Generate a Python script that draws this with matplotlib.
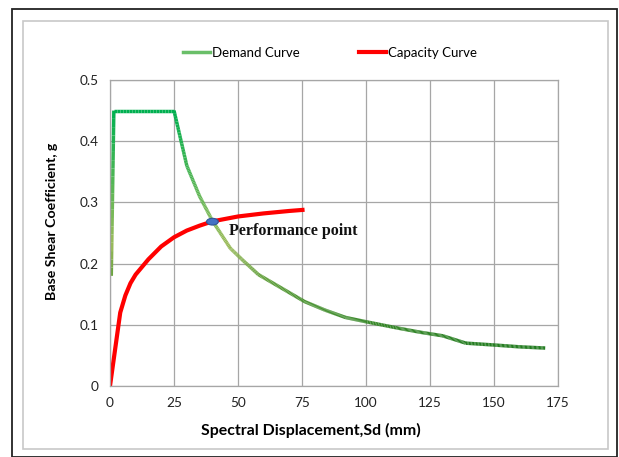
import matplotlib
matplotlib.use("Agg")
import matplotlib.pyplot as plt
import numpy as np
from matplotlib.collections import LineCollection
from matplotlib.colors import LinearSegmentedColormap
from matplotlib.lines import Line2D
from matplotlib.patches import Ellipse, Rectangle

# demand curve (spectral displacement mm, base shear coeff g)
demand_sd = [0.5, 1.5, 25, 30, 35, 40, 47, 52, 58, 67, 76, 84, 92, 100, 112, 121, 130, 139, 150, 160, 170]
demand_sa = [0.18, 0.45, 0.45, 0.36, 0.31, 0.27, 0.225, 0.205, 0.182, 0.160, 0.138, 0.124, 0.112, 0.105, 0.095, 0.088, 0.082, 0.070, 0.067, 0.064, 0.062]

# capacity curve
capacity_sd = [0, 2, 4, 6, 8, 10, 15, 20, 25, 30, 35, 40, 45, 50, 60, 70, 76]
capacity_sa = [0, 0.06, 0.12, 0.148, 0.168, 0.182, 0.207, 0.228, 0.243, 0.254, 0.262, 0.269, 0.273, 0.277, 0.282, 0.286, 0.288]

perf_sd, perf_sa = 40, 0.2685

x_ticks = [0, 25, 50, 75, 100, 125, 150, 175]
y_ticks = [0, 0.1, 0.2, 0.3, 0.4, 0.5]
y_labels = ["0", "0.1", "0.2", "0.3", "0.4", "0.5"]

lab_font = "Lato"

fig = plt.figure(figsize=(6.19, 4.57), dpi=100)
# outer frames
fig.patches.append(Rectangle((12/619, 0), 605/619, 1 - 9/457, transform=fig.transFigure,
                             fill=False, edgecolor="#222222", linewidth=1.3))
fig.patches.append(Rectangle((23/619, 1 - 449/457), 585/619, (449 - 21)/457, transform=fig.transFigure,
                             fill=False, edgecolor="#c8c8c8", linewidth=1.2))

ax = fig.add_axes([110/619, 1 - 386/457, 448/619, 306/457])
ax.set_xlim(0, 175)
ax.set_ylim(0, 0.5)
ax.set_xticks(x_ticks)
ax.set_yticks(y_ticks)
ax.set_yticklabels(y_labels)
ax.tick_params(length=0, labelsize=9.8, colors="#222222", pad=8)
for lbl in ax.get_xticklabels() + ax.get_yticklabels():
    lbl.set_family(lab_font)
ax.grid(True, color="#a6a6a6", linewidth=0.9)
ax.set_axisbelow(True)
for s in ax.spines.values():
    s.set_color("#a6a6a6")
    s.set_linewidth(0.9)

# demand curve coloured by level (green top, pale middle, dark bottom)
cmap = LinearSegmentedColormap.from_list("dem", [(0, "#1f7a1f"), (0.3, "#5e9e3a"), (0.45, "#9bbb59"), (1, "#00b050")])
pts = np.array([demand_sd, demand_sa]).T
fine = []
for i in range(len(pts) - 1):
    for t in np.linspace(0, 1, 20, endpoint=False):
        fine.append(pts[i] + t * (pts[i + 1] - pts[i]))
fine.append(pts[-1])
fine = np.array(fine)
segs = np.stack([fine[:-1], fine[1:]], axis=1)
lc = LineCollection(segs, cmap=cmap, linewidths=2.5, capstyle="butt", joinstyle="round")
lc.set_array((fine[:-1, 1] + fine[1:, 1]) / 2 / 0.45)
lc.set_clim(0.12, 1.0)
ax.add_collection(lc)

ax.plot(capacity_sd, capacity_sa, color="#ff0000", linewidth=3, solid_capstyle="butt")

ax.add_patch(Ellipse((perf_sd, perf_sa), 4.6, 0.011, facecolor="#4472c4", edgecolor="#2f5597", linewidth=0.8, zorder=5))
ax.text(46.5, 0.2525, "Performance point", family="Liberation Serif", fontweight="bold",
        fontsize=11.5, va="center", ha="left", color="#111111")

ax.set_xlabel("Spectral Displacement,Sd (mm)", family=lab_font, fontweight="bold", fontsize=11.4, va="center")
ax.xaxis.set_label_coords(0.4475, -0.144)
ax.set_ylabel("Base Shear Coefficient, g", family=lab_font, fontweight="bold", fontsize=10.2, va="center")
ax.yaxis.set_label_coords(-0.130, 0.539)

handles = [Line2D([], [], color="#6abf69", linewidth=2.5), Line2D([], [], color="#ff0000", linewidth=3)]
leg = fig.legend(handles, ["Demand Curve", "Capacity Curve"], loc="center", bbox_to_anchor=(330/619, 1 - 53/457),
                 ncol=2, frameon=False, handlelength=2.05, handletextpad=0.15, columnspacing=4.5,
                 prop={"family": lab_font, "size": 9.5})

fig.savefig("out.png", dpi=100)
